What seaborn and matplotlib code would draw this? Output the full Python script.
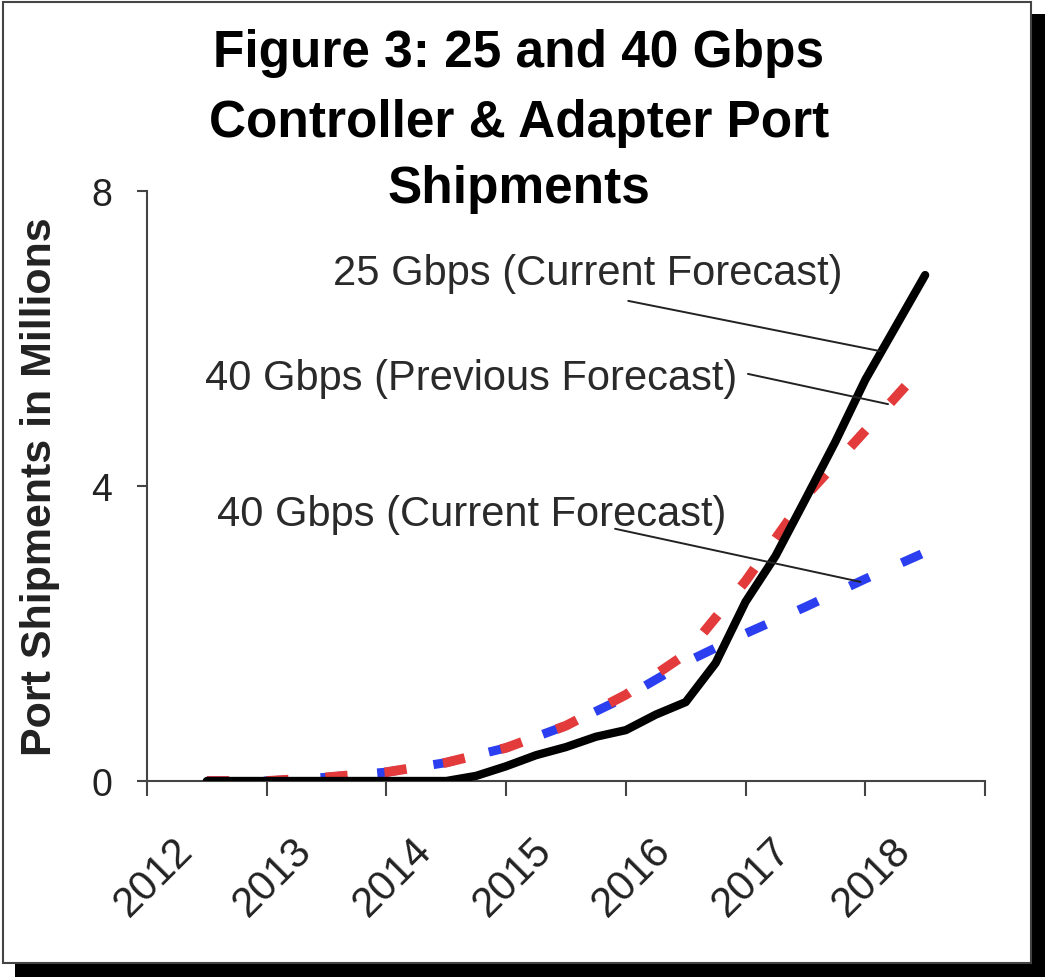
import matplotlib
matplotlib.use('Agg')
import matplotlib.pyplot as plt
from matplotlib.patches import Rectangle
import pandas as pd
import seaborn as sns

# readings (millions of ports)
# the 25G curve bends sharply, so it was read every quarter
period_q = [2012, 2012.5, 2013, 2013.5, 2014, 2014.25, 2014.5, 2014.75, 2015, 2015.25, 2015.5,
            2015.75, 2016, 2016.25, 2016.5, 2016.75, 2017, 2017.25, 2017.5, 2017.75, 2018]
gbps25_current = [0, 0, 0, 0, 0, 0.07, 0.2, 0.35, 0.46, 0.6, 0.69,
                  0.9, 1.07, 1.6, 2.43, 3.05, 3.82, 4.6, 5.44, 6.15, 6.86]

period = [2012, 2012.5, 2013, 2013.5, 2014, 2014.5, 2015, 2015.5, 2016, 2016.5, 2017, 2017.5, 2018]
gbps40_previous = [0, 0, 0.05, 0.12, 0.25, 0.45, 0.75, 1.17, 1.72, 2.71, 3.86, 4.75, 5.65]
gbps40_current = [0, 0, 0.05, 0.12, 0.25, 0.45, 0.75, 1.14, 1.61, 2.0, 2.36, 2.74, 3.1]

years = [2012, 2013, 2014, 2015, 2016, 2017, 2018]
year_labels = [str(y) for y in years]
y_ticks = [0, 4, 8]

title_lines = ["Figure 3: 25 and 40 Gbps", "Controller & Adapter Port", "Shipments"]
series_labels = ["25 Gbps (Current Forecast)", "40 Gbps (Previous Forecast)", "40 Gbps (Current Forecast)"]

df25 = pd.DataFrame({"period": period_q, "ports": gbps25_current})
df40 = pd.DataFrame({"period": period, "prev": gbps40_previous, "curr": gbps40_current})

sns.set_style("white")
plt.rcParams['font.family'] = ['Liberation Sans', 'DejaVu Sans']

fig = plt.figure(figsize=(10.45, 9.78), dpi=100)
W, H = 1045, 978

# framed box with drop shadow (kept behind the axes)
fig.patches.append(Rectangle((15 / W, 0), 1 - 15 / W, 1 - 15 / H, transform=fig.transFigure,
                             facecolor='black', edgecolor='none', zorder=-2, figure=fig))
fig.patches.append(Rectangle((3 / W, 1 - 964 / H), 1028 / W, 961 / H, transform=fig.transFigure,
                             facecolor='white', edgecolor='#444444', lw=1.5, zorder=-1, figure=fig))

ax = fig.add_axes([147 / W, 196 / H, 838 / W, 590 / H])
ax.set_facecolor('none')

sns.lineplot(data=df40, x="period", y="curr", ax=ax, color='#2b3ff0', lw=6.5,
             linestyle=(0, (2.4, 3.9)), dash_capstyle='butt', zorder=3)
sns.lineplot(data=df40, x="period", y="prev", ax=ax, color='#e33b3b', lw=7,
             linestyle=(0, (2.3, 3.8)), dash_capstyle='butt', zorder=4)
sns.lineplot(data=df25, x="period", y="ports", ax=ax, color='black', lw=6,
             solid_capstyle='round', solid_joinstyle='round', zorder=5)

ax.set_xlim(years[0] - 0.5, years[-1] + 0.5)
ax.set_ylim(0, 8)

for s in ['top', 'right']:
    ax.spines[s].set_visible(False)
for s in ['left', 'bottom']:
    ax.spines[s].set_color('#444444')
    ax.spines[s].set_linewidth(1.5)

# category boundaries as major ticks, year labels on (shifted) minor ticks
ax.set_xticks([y - 0.5 for y in years] + [years[-1] + 0.5])
ax.set_xticklabels([])
ax.set_xticks([y - 0.29 for y in years], minor=True)
ax.set_xticklabels(year_labels, minor=True, rotation=45, ha='right', va='top',
                   rotation_mode='anchor', fontsize=30, color='#222222')
ax.tick_params(axis='x', which='major', bottom=True, direction='out', length=11,
               width=1.5, color='#444444')
ax.tick_params(axis='x', which='minor', bottom=True, length=0, pad=35)

ax.set_yticks(y_ticks)
ax.set_yticklabels([str(v) for v in y_ticks], fontsize=27, color='#222222')
ax.tick_params(axis='y', left=True, direction='out', length=7, width=1.5,
               color='#444444', pad=18)

ax.set_xlabel("")
ax.set_ylabel("Port Shipments in Millions", fontsize=31, fontweight='bold', color='#222222')
ax.yaxis.set_label_coords(-0.104, 0.5)

# title
for txt, yb in zip(title_lines, [67, 137, 203]):
    fig.text(519 / W, 1 - yb / H, txt, ha='center', va='baseline',
             fontsize=37, fontweight='bold', color='black')

# series labels with leader lines
text_pos = [(2015.18, 6.74), (2014.21, 5.32), (2014.21, 3.47)]
leader_from = [(2015.52, 6.51), (2016.52, 5.52), (2015.41, 3.42)]
leader_to = [(2017.62, 5.83), (2017.69, 5.11), (2017.46, 2.70)]
for lab, tp, lf, lt in zip(series_labels, text_pos, leader_from, leader_to):
    ax.text(tp[0], tp[1], lab, ha='center', va='baseline', fontsize=30, color='#2a2a2a', zorder=6)
    ax.annotate('', xy=lt, xytext=lf,
                arrowprops=dict(arrowstyle='-', color='#222222', lw=1.4, shrinkA=0, shrinkB=0),
                zorder=6)

fig.savefig("out.png", dpi=100)
